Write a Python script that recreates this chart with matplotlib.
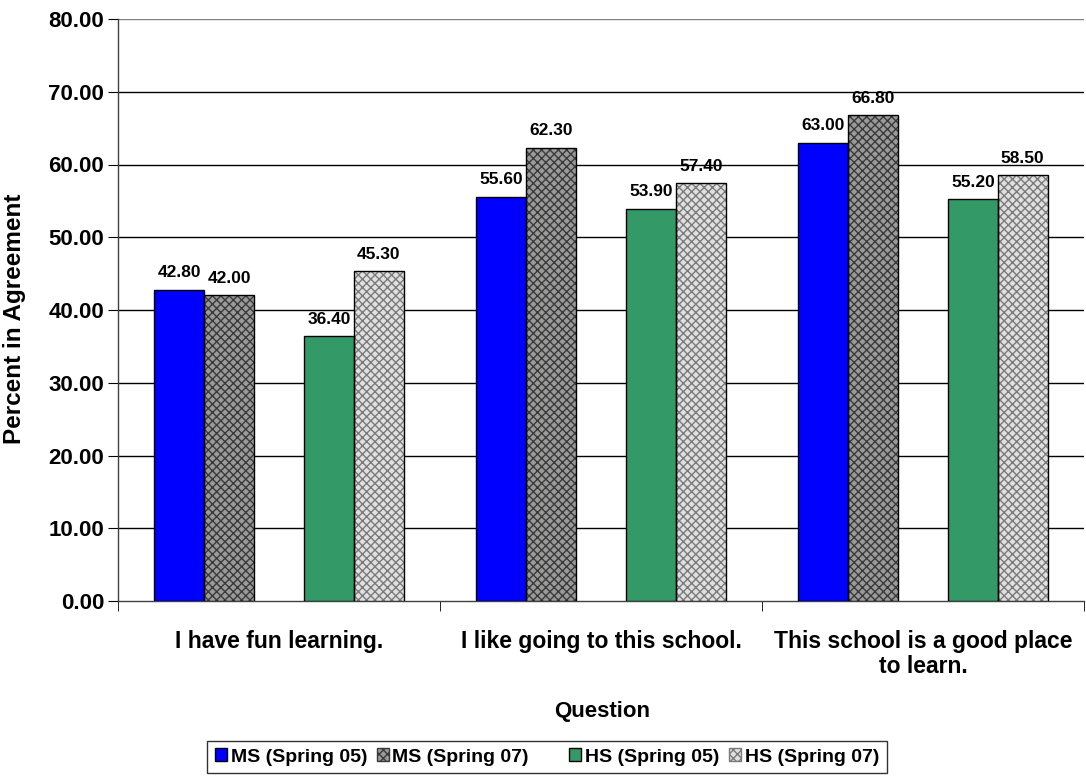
import matplotlib
matplotlib.use("Agg")
import matplotlib.pyplot as plt
import numpy as np
from matplotlib.patches import Patch

plt.rcParams['font.family'] = ['Liberation Sans', 'DejaVu Sans']
plt.rcParams['font.weight'] = 'bold'
plt.rcParams['hatch.linewidth'] = 1.0

categories = ["I have fun learning.", "I like going to this school.",
              "This school is a good place\nto learn."]
series_names = ["MS (Spring 05)", "MS (Spring 07)", " ", "HS (Spring 05)", "HS (Spring 07)"]
ms_05 = [42.8, 55.6, 63.0]
ms_07 = [42.0, 62.3, 66.8]
blank = [None, None, None]
hs_05 = [36.4, 53.9, 55.2]
hs_07 = [45.3, 57.4, 58.5]
yticks = [0, 10, 20, 30, 40, 50, 60, 70, 80]

series = [ms_05, ms_07, blank, hs_05, hs_07]
styles = [
    dict(facecolor='#0000FF', hatch=None, hcolor='black'),
    dict(facecolor='#9a9a9a', hatch='xxxx', hcolor='#3a3a3a'),
    None,
    dict(facecolor='#339966', hatch=None, hcolor='black'),
    dict(facecolor='#e0e0e0', hatch='xxxx', hcolor='#7a7a7a'),
]

fig = plt.figure(figsize=(10.86, 7.80), dpi=100)
ax = fig.add_axes([118/1086, 1-601/780, 966/1086, 582/780])

x = np.arange(len(categories))
bw = 50/323
n = len(series)
for i, (vals, st) in enumerate(zip(series, styles)):
    if st is None:
        continue
    off = (i - (n-1)/2) * bw
    for xi, v in zip(x, vals):
        ax.bar(xi + off, v, width=bw, facecolor=st['facecolor'],
               edgecolor=st['hcolor'] if st['hatch'] else 'black',
               hatch=st['hatch'], linewidth=0, zorder=3)
        ax.bar(xi + off, v, width=bw, facecolor='none', edgecolor='black',
               linewidth=1.0, zorder=4)
        ax.text(xi + off, v + 1.3, f"{v:.2f}", ha='center', va='bottom',
                fontsize=12.5, fontweight='bold', zorder=5)

ax.set_xlim(-0.5, len(categories) - 0.5)
ax.set_ylim(0, 80)
ax.set_yticks(yticks)
ax.set_yticklabels([f"{t:.2f}" for t in yticks], fontsize=16, fontweight='bold')
for t in yticks[1:]:
    ax.axhline(t, color='black' if t < 80 else '#808080', linewidth=1.0, zorder=1)
ax.set_xticks(x)
ax.set_xticklabels(categories, fontsize=16.5, fontweight='bold', linespacing=1.1)
ax.set_xticks(np.arange(len(categories)+1) - 0.5, minor=True)
ax.tick_params(axis='x', which='major', length=0, pad=21)
ax.tick_params(axis='x', which='minor', length=7, direction='out', color='black')
ax.tick_params(axis='y', length=7, direction='out', pad=3)
for s in ['top', 'right']:
    ax.spines[s].set_visible(False)
ax.spines['left'].set_color('#404040')
ax.spines['bottom'].set_color('#404040')
ax.spines['left'].set_linewidth(1.0)
ax.spines['bottom'].set_linewidth(1.0)

fig.text(602/1086, 1-712/780, "Question", fontsize=16, fontweight='bold',
         ha='center', va='center')
fig.text(15/1086, 1-319/780, "Percent in Agreement", fontsize=17.5, fontweight='bold',
         ha='center', va='center', rotation=90)

handles = []
for name, st in zip(series_names, styles):
    if st is None:
        handles.append(Patch(facecolor='none', edgecolor='none', label=name))
    else:
        handles.append(Patch(facecolor=st['facecolor'],
                             edgecolor=st['hcolor'] if st['hatch'] else 'black',
                             hatch=st['hatch'], label=name, linewidth=1.0))
leg = fig.legend(handles=handles, loc='center', bbox_to_anchor=(547/1086, 1-757/780),
                 ncol=5, frameon=True, fancybox=False, edgecolor='black',
                 prop={'size': 14, 'weight': 'bold'}, handlelength=0.6,
                 handleheight=0.6, handletextpad=0.2, columnspacing=0.5,
                 borderpad=0.4, borderaxespad=0.0)
leg.get_frame().set_linewidth(1.0)

fig.savefig("out.png", dpi=100)
